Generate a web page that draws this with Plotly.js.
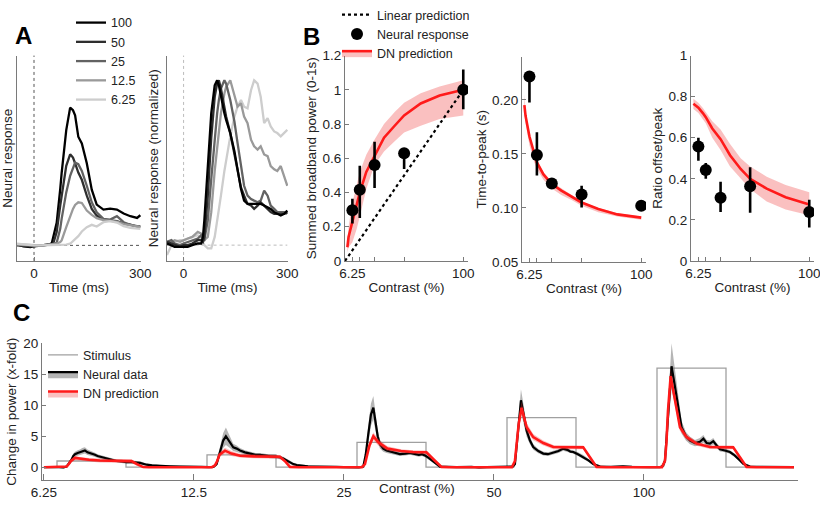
<!DOCTYPE html>
<html>
<head>
<meta charset="utf-8">
<script src="https://cdn.plot.ly/plotly-3.0.1.min.js"></script>
<style>
body{margin:0;background:#fff}
#fig{width:820px;height:505px}
</style>
</head>
<body>
<div id="fig"></div>
<script>
// ---- panel A: broadband time courses per contrast (ms) ----
var contrastNames = ['100', '50', '25', '12.5', '6.25'];

var tRaw = [-48,-30,-10,0,20, 40,50,55,64,74, 78,91,102,110,116, 125,135,149,163,177, 196,215,234,253,272, 291,300];
var raw100 = [0.03,-0.03,-0.05,-0.02,0.0, 0.02,0.06,0.3,0.68,1.7, 2.18,3.48,4.16,4.08,3.93, 3.28,3.08,2.48,1.68,1.23, 1.08,1.11,1.08,0.96,0.88, 0.83,0.91];
var raw50 = [0.0,-0.02,-0.03,-0.03,0.0, 0.02,0.03,0.08,0.4,1.2, 1.5,2.4,2.75,2.65,2.48, 2.2,1.98,1.5,1.1,0.9, 0.78,0.75,0.73,0.66,0.63, 0.57,0.56];
var raw25 = [0.02,0.0,-0.02,-0.02,0.0, 0.02,0.03,0.04,0.08,0.5, 0.8,1.6,2.1,2.35,2.5, 2.45,2.25,1.8,1.3,1.0, 0.8,0.78,0.88,0.7,0.62, 0.58,0.58];
var raw12 = [0.03,0.02,0.0,-0.01,0.0, 0.02,0.03,0.04,0.05,0.1, 0.15,0.55,0.9,1.1,1.22, 1.3,1.28,1.05,0.92,0.82, 0.76,0.74,0.72,0.64,0.6, 0.56,0.56];
var raw6 = [0.05,0.03,0.0,0.0,0.0, 0.01,0.01,0.01,0.01,0.02, 0.02,0.02,0.05,0.12,0.18, 0.28,0.42,0.55,0.62,0.57, 0.7,0.73,0.69,0.58,0.53, 0.5,0.5];

var tNorm = [-48,-35,-26,-10,0, 12,25,41,51,56, 60,70,80,90,97, 102,108,118,123,135, 147,156,166,175,185, 195,204,214,223,233, 243,252,262,271,281, 291,300];
var norm100 = [0.01,0.0,-0.01,-0.01,-0.01, -0.01,0.0,0.01,0.01,0.05, 0.15,0.5,0.8,0.97,1.0, 0.97,0.9,0.8,0.76,0.68, 0.57,0.47,0.34,0.27,0.25, 0.25,0.25,0.25,0.25,0.24, 0.23,0.22,0.2,0.19,0.18, 0.19,0.21];
var norm50 = [0.02,0.01,0.0,-0.01,0.0, 0.0,0.01,0.03,0.03,0.02, 0.05,0.3,0.65,0.9,0.98, 1.0,0.95,0.84,0.78,0.68, 0.55,0.45,0.35,0.3,0.25, 0.24,0.22,0.24,0.26,0.24, 0.22,0.2,0.19,0.19,0.19, 0.19,0.2];
var norm25 = [0.02,0.03,0.01,0.0,0.01, 0.02,0.03,0.04,0.06,0.03, 0.03,0.15,0.4,0.65,0.8, 0.88,0.95,1.0,0.98,0.88, 0.75,0.62,0.48,0.36,0.3, 0.28,0.27,0.26,0.27,0.33, 0.3,0.24,0.22,0.2,0.2, 0.2,0.19];
var norm12 = [0.0,0.02,0.03,0.02,0.03, 0.04,0.05,0.08,0.07,0.05, 0.03,0.05,0.2,0.45,0.6, 0.7,0.8,0.92,0.96,1.0, 0.9,0.84,0.86,0.78,0.74, 0.64,0.6,0.58,0.6,0.55, 0.54,0.48,0.46,0.45,0.48, 0.42,0.36];
var norm6 = [-0.06,0.0,0.02,0.03,0.03, 0.04,0.05,0.06,0.04,0.02, 0.0,-0.02,-0.02,0.05,0.14, 0.2,0.3,0.45,0.52,0.66, 0.78,0.84,0.88,0.84,0.83, 0.94,1.0,0.98,0.9,0.74, 0.77,0.72,0.69,0.68,0.66, 0.68,0.7];

// ---- panel B: summary metrics vs contrast ----
var contrasts = [6.25, 12.5, 25, 50, 100];
var contrastTickText = ['6.25', '', '', '', '100'];
var linContrast = [0, 100];
var linPower = [0, 1];

var powerMean = [0.296, 0.416, 0.561, 0.63, 1.0];
var powerErrUp = [0.068, 0.141, 0.135, 0.02, 0.118];
var powerErrDown = [0.077, 0.165, 0.135, 0.092, 0.114];

var peakMean = [0.2216, 0.149, 0.1225, 0.1124, 0.102];
var peakErrUp = [0.003, 0.021, 0.002, 0.008, 0.002];
var peakErrDown = [0.024, 0.019, 0.002, 0.012, 0.002];

var ratioMean = [0.557, 0.443, 0.308, 0.364, 0.238];
var ratioErrUp = [0.043, 0.034, 0.078, 0.092, 0.06];
var ratioErrDown = [0.069, 0.043, 0.07, 0.129, 0.075];

// DN model curves
var cModel = [2, 3, 6.25, 10, 12.5, 18, 25, 33, 42, 50, 64, 80, 100];
var dnPower = [0.08, 0.14, 0.23, 0.34, 0.40, 0.52, 0.615, 0.72, 0.79, 0.85, 0.92, 0.967, 1.0];
var dnPowerLo = [0.05, 0.08, 0.11, 0.19, 0.26, 0.42, 0.56, 0.64, 0.70, 0.75, 0.79, 0.83, 0.85];
var dnPowerHi = [0.1, 0.2, 0.34, 0.46, 0.52, 0.62, 0.71, 0.80, 0.87, 0.925, 0.98, 1.02, 1.056];
var dnPeak = [0.195, 0.185, 0.166, 0.150, 0.142, 0.131, 0.122, 0.116, 0.110, 0.105, 0.099, 0.094, 0.091];
var dnPeakLo = [0.19, 0.178, 0.158, 0.143, 0.136, 0.126, 0.118, 0.112, 0.107, 0.102, 0.096, 0.092, 0.089];
var dnPeakHi = [0.205, 0.19, 0.169, 0.152, 0.144, 0.133, 0.124, 0.118, 0.112, 0.106, 0.1, 0.095, 0.092];
var dnRatio = [0.765, 0.76, 0.746, 0.72, 0.70, 0.645, 0.593, 0.515, 0.448, 0.40, 0.352, 0.31, 0.275];
var dnRatioLo = [0.74, 0.735, 0.72, 0.69, 0.67, 0.60, 0.54, 0.46, 0.40, 0.35, 0.29, 0.25, 0.222];
var dnRatioHi = [0.79, 0.785, 0.77, 0.745, 0.725, 0.68, 0.64, 0.57, 0.50, 0.46, 0.41, 0.37, 0.335];

// ---- panel C: time series, one stimulus block per tick (block units) ----
var blockTicks = [0, 1, 2, 3, 4];
var blockNames = ['6.25', '12.5', '25', '50', '100'];

var tStim = [0,0.087,0.087,0.547,0.547, 1.087,1.087,1.547,1.547, 2.087,2.087,2.547,2.547, 3.087,3.087,3.547,3.547, 4.087,4.087,4.547,4.547, 5.0];
var stim = [0,0,1,1,0, 0,2,2,0, 0,4,4,0, 0,8,8,0, 0,16,16,0, 0];

var tNeural = [
  0,0.03,0.06,0.10,0.13, 0.151,0.17,0.184,0.195,0.207, 0.225,0.24,0.255,0.273,0.29, 0.307,0.325,0.34,0.357,0.373, 0.395,0.418,0.45,0.484,0.52, 0.551,0.575,0.596,0.62,0.64, 0.66,0.684,0.72,0.773,0.84, 0.907,0.95,
  1.0,1.05,1.10,1.13,1.151, 1.165,1.18,1.195,1.213,1.225, 1.24,1.262,1.285,1.307,1.34, 1.373,1.41,1.44,1.475,1.507, 1.54,1.573,1.595,1.618,1.64, 1.662,1.685,1.707,1.76,1.818, 1.9,1.95,
  2.0,2.06,2.1,2.129,2.145, 2.162,2.18,2.196,2.21,2.225, 2.24,2.262,2.284,2.33,2.373, 2.41,2.44,2.462,2.5,2.52, 2.54,2.565,2.59,2.615,2.64, 2.7,2.75,2.85,2.9,2.95,
  3.0,3.05,3.107,3.125,3.14, 3.162,3.18,3.198,3.218,3.24, 3.262,3.296,3.329,3.36,3.396, 3.43,3.462,3.49,3.51,3.529, 3.56,3.596,3.63,3.662,3.707, 3.78,3.86,3.92,3.97,
  4.04,4.107,4.125,4.14,4.162, 4.184,4.2,4.218,4.235,4.251, 4.28,4.307,4.34,4.373,4.396, 4.418,4.44,4.462,4.485,4.507, 4.54,4.573,4.6,4.618,4.64, 4.662,4.685,4.707,4.78,4.884, 4.95,5.0
];
var neural = [
  0,-0.05,0.02,0,-0.05, 0.1,0.7,1.2,1.8,2.1, 2.3,2.4,2.6,2.7,2.4, 2.3,2.1,2.0,1.8,1.7, 1.5,1.3,1.15,1.0,0.95, 0.8,0.85,0.85,0.75,0.7, 0.55,0.4,0.3,0.2,0.15, 0.1,0.05,
  0,0.05,0,0.05,0.5, 1.8,3.0,4.3,5.0,4.6, 4.0,3.2,3.0,2.7,2.4, 2.2,2.0,2.0,1.85,1.76, 1.7,1.6,1.4,1.07,0.8, 0.5,0.35,0.27,0.15,0.1, 0,0.05,
  0,0,-0.05,0.1,2.0, 5.3,8.5,9.6,7.5,5.0, 3.7,3.0,2.7,2.4,2.1, 2.2,2.3,2.2,2.0,2.1, 1.9,1.5,1.0,0.5,0.1, 0.05,0,0.05,-0.05,0,
  0,0.05,0,0.1,0.5, 6.0,10.8,8.5,5.9,4.3, 3.25,2.6,2.2,2.1,2.3, 2.6,3.0,2.8,2.5,2.45, 2.1,1.65,1.1,0.5,0.1, 0.05,0.12,0.05,0,
  0,0,0.2,1.0,9.0, 16.3,14.0,11.25,8.5,6.45, 5.0,4.3,3.9,4.1,4.6, 3.9,3.8,4.2,3.5,2.9, 2.7,2.45,2.0,1.65,1.1, 0.55,0.25,0.1,0.05,0.05, 0,0
];
var neuralSem = [
  0.15,0.15,0.15,0.15,0.15, 0.2,0.3,0.35,0.4,0.4, 0.45,0.45,0.5,0.5,0.45, 0.4,0.35,0.35,0.3,0.3, 0.3,0.3,0.25,0.25,0.25, 0.25,0.25,0.25,0.25,0.25, 0.2,0.2,0.2,0.15,0.15, 0.15,0.15,
  0.15,0.15,0.15,0.15,0.3, 0.6,0.9,1.2,1.4,1.2, 0.9,0.6,0.5,0.4,0.35, 0.3,0.3,0.3,0.3,0.3, 0.3,0.3,0.3,0.3,0.25, 0.25,0.2,0.2,0.15,0.15, 0.15,0.15,
  0.15,0.15,0.15,0.2,0.8, 1.4,1.8,1.9,1.6,1.0, 0.7,0.5,0.4,0.35,0.3, 0.3,0.3,0.3,0.3,0.3, 0.3,0.3,0.25,0.2,0.2, 0.15,0.15,0.15,0.15,0.15,
  0.15,0.15,0.15,0.2,0.5, 1.4,1.8,1.5,1.0,0.6, 0.45,0.35,0.3,0.3,0.3, 0.3,0.35,0.35,0.3,0.3, 0.3,0.3,0.25,0.2,0.2, 0.15,0.15,0.15,0.15,
  0.15,0.15,0.3,0.8,2.5, 3.7,3.0,2.2,1.5,1.0, 0.7,0.6,0.5,0.6,0.6, 0.5,0.5,0.5,0.4,0.35, 0.3,0.3,0.3,0.3,0.25, 0.2,0.2,0.15,0.15,0.15, 0.15,0.15
];

var tDN = [
  0,0.14,0.151,0.165,0.18, 0.207,0.24,0.30,0.373,0.45, 0.55,0.584,0.62,0.662,0.7,
  1.12,1.14,1.155,1.17,1.207, 1.25,1.307,1.40,1.50,1.573, 1.61,1.64,1.7,
  2.12,2.14,2.155,2.17,2.196, 2.23,2.29,2.38,2.46,2.55, 2.60,2.65,2.7,
  3.12,3.14,3.152,3.165,3.184, 3.2,3.218,3.262,3.329,3.396, 3.50,3.595,3.64,3.684,3.75,
  4.12,4.14,4.15,4.16,4.178, 4.192,4.207,4.24,4.284,4.351, 4.44,4.595,4.64,4.684,4.75, 5.0
];
var dnSeries = [
  0,0,0.1,0.5,1.0, 1.5,1.35,1.2,1.07,1.02, 1.0,0.98,0.5,0.02,0,
  0,0.3,1.0,2.0,2.67, 2.2,1.85,1.75,1.7,1.68, 0.9,0.05,0,
  0,0.5,2.0,3.5,5.0, 4.0,3.0,2.6,2.45,2.4, 1.2,0.05,0,
  0,1.0,3.5,7.0,9.6, 8.0,6.45,4.85,3.9,3.25, 3.2,3.2,1.6,0.05,0,
  0,1.0,4.0,9.0,14.7, 12.8,10.7,6.45,4.85,3.8, 3.25,3.2,1.6,0.05,0, 0
];
var dnSpread = [
  0.1,0.1,0.15,0.25,0.3, 0.35,0.3,0.3,0.3,0.3, 0.3,0.3,0.25,0.15,0.1,
  0.1,0.15,0.3,0.4,0.45, 0.4,0.3,0.3,0.3,0.3, 0.25,0.15,0.1,
  0.1,0.2,0.4,0.55,0.65, 0.55,0.4,0.3,0.3,0.3, 0.25,0.15,0.1,
  0.1,0.3,0.6,0.9,1.0, 0.9,0.7,0.5,0.4,0.35, 0.3,0.3,0.25,0.15,0.1,
  0.1,0.3,0.6,1.0,1.2, 1.1,0.9,0.6,0.45,0.35, 0.3,0.3,0.25,0.15,0.1, 0.1
];

// ---------------- style ----------------
var FONT = 'Liberation Sans, Arial, Helvetica, sans-serif';
var grays = ['#000000', '#2e2e2e', '#626262', '#9a9a9a', '#cdcdcd'];
var RED = '#ff1a1a';
var PINK = 'rgba(240,60,60,0.32)';
var AXC = '#7a7a7a';

function addBand(data, x, lo, mid, hi, xa, ya, lineColor, fillColor, width, name, legend, rank) {
  data.push({x: x, y: lo, xaxis: xa, yaxis: ya, mode: 'lines', line: {width: 0, color: fillColor}, showlegend: false, hoverinfo: 'skip'});
  data.push({x: x, y: mid, xaxis: xa, yaxis: ya, mode: 'lines', line: {width: width, color: lineColor},
    fill: 'tonexty', fillcolor: fillColor, name: name, showlegend: !!legend, legend: legend, legendrank: rank});
  data.push({x: x, y: hi, xaxis: xa, yaxis: ya, mode: 'lines', line: {width: 0, color: fillColor},
    fill: 'tonexty', fillcolor: fillColor, showlegend: false, hoverinfo: 'skip'});
}

function pointsTrace(y, up, down, xa, ya, name, legend) {
  return {x: contrasts, y: y, xaxis: xa, yaxis: ya, mode: 'markers', name: name,
    marker: {size: 12, color: '#000'},
    error_y: {type: 'data', symmetric: false, array: up, arrayminus: down, thickness: 2.6, width: 0, color: '#000'},
    showlegend: !!legend, legend: legend, legendrank: 2};
}

var data = [];

// A
var rawSeries = [raw100, raw50, raw25, raw12, raw6];
var normSeries = [norm100, norm50, norm25, norm12, norm6];
for (var i = 0; i < 5; i++) {
  data.push({x: tRaw, y: rawSeries[i], xaxis: 'x', yaxis: 'y', mode: 'lines', name: contrastNames[i],
    line: {color: grays[i], width: 2.3}, legend: 'legend', legendrank: i + 1});
}
for (var i = 4; i >= 0; i--) {
  data.push({x: tNorm, y: normSeries[i], xaxis: 'x2', yaxis: 'y2', mode: 'lines',
    line: {color: grays[i], width: 2.3}, showlegend: false});
}

// B
addBand(data, cModel, dnPowerLo, dnPower, dnPowerHi, 'x3', 'y3', RED, PINK, 2.6, 'DN prediction', 'legend2', 3);
data.push({x: linContrast, y: linPower, xaxis: 'x3', yaxis: 'y3', mode: 'lines', name: 'Linear prediction',
  line: {color: '#000', width: 2.2, dash: 'dot'}, legend: 'legend2', legendrank: 1});
data.push(pointsTrace(powerMean, powerErrUp, powerErrDown, 'x3', 'y3', 'Neural response', 'legend2'));

addBand(data, cModel, dnPeakLo, dnPeak, dnPeakHi, 'x4', 'y4', RED, PINK, 2.6, 'DN prediction', null, 3);
data.push(pointsTrace(peakMean, peakErrUp, peakErrDown, 'x4', 'y4', 'Neural response', null));

addBand(data, cModel, dnRatioLo, dnRatio, dnRatioHi, 'x5', 'y5', RED, PINK, 2.6, 'DN prediction', null, 3);
data.push(pointsTrace(ratioMean, ratioErrUp, ratioErrDown, 'x5', 'y5', 'Neural response', null));

// C
data.push({x: tStim, y: stim, xaxis: 'x6', yaxis: 'y6', mode: 'lines', name: 'Stimulus',
  line: {color: '#a0a0a0', width: 1.3}, legend: 'legend3', legendrank: 1});
var nLo = neural.map(function (v, k) { return v - neuralSem[k]; });
var nHi = neural.map(function (v, k) { return v + neuralSem[k]; });
addBand(data, tNeural, nLo, neural, nHi, 'x6', 'y6', '#000', 'rgba(90,90,90,0.45)', 2.2, 'Neural data', 'legend3', 2);
var dLo = dnSeries.map(function (v, k) { return v - dnSpread[k]; });
var dHi = dnSeries.map(function (v, k) { return v + dnSpread[k]; });
addBand(data, tDN, dLo, dnSeries, dHi, 'x6', 'y6', RED, PINK, 2.6, 'DN prediction', 'legend3', 3);

function axis(o) {
  var a = {showline: true, linecolor: AXC, linewidth: 1, ticks: 'inside', ticklen: 4, tickcolor: AXC,
    showgrid: false, zeroline: false, fixedrange: true, ticklabeloverflow: 'allow',
    tickfont: {size: 13.5, color: '#222'}};
  for (var k in o) a[k] = o[k];
  return a;
}
function ttl(t, s) { return {text: t, standoff: s, font: {size: 13.5, color: '#222'}}; }

var yTop = 1 - 52 / 505, yBot = 1 - 259 / 505;
var legendFont = {size: 12.5, color: '#222', family: FONT};
function legendAt(px, py) {
  return {x: px / 820, y: 1 - py / 505, xanchor: 'left', yanchor: 'top', traceorder: 'normal',
    bgcolor: 'rgba(0,0,0,0)', font: legendFont, itemwidth: 30};
}

var layout = {
  width: 820, height: 505,
  margin: {l: 0, r: 0, t: 0, b: 0},
  paper_bgcolor: '#fff', plot_bgcolor: 'rgba(0,0,0,0)',
  font: {family: FONT, color: '#222'},
  xaxis: axis({domain: [17 / 820, 141 / 820], range: [-48, 302], anchor: 'y', tickvals: [0, 300], title: ttl('Time (ms)', 2)}),
  yaxis: axis({domain: [yBot, yTop], range: [-0.47, 5.73], anchor: 'x', showticklabels: false, ticks: '', title: ttl('Neural response', 3)}),
  xaxis2: axis({domain: [167 / 820, 288 / 820], range: [-48, 302], anchor: 'y2', tickvals: [0, 300], title: ttl('Time (ms)', 2)}),
  yaxis2: axis({domain: [yBot, yTop], range: [-0.096, 1.15], anchor: 'x2', showticklabels: false, ticks: '', title: ttl('Neural response (normalized)', 4)}),
  xaxis3: axis({domain: [345 / 820, 468 / 820], range: [0, 104], anchor: 'y3', tickvals: contrasts, ticktext: contrastTickText, title: ttl('Contrast (%)', 2)}),
  yaxis3: axis({domain: [yBot, yTop], range: [0, 1.2], anchor: 'x3', tickvals: [0, 0.2, 0.4, 0.6, 0.8, 1, 1.2], title: ttl('Summed broadband power (0-1s)', 2)}),
  xaxis4: axis({domain: [522 / 820, 646 / 820], range: [0, 104], anchor: 'y4', tickvals: contrasts, ticktext: contrastTickText, title: ttl('Contrast (%)', 2)}),
  yaxis4: axis({domain: [1 - 260 / 505, 1 - 53 / 505], range: [0.05, 0.24], anchor: 'x4', tickvals: [0.05, 0.1, 0.15, 0.2], tickformat: '.2f', title: ttl('Time-to-peak (s)', 2)}),
  xaxis5: axis({domain: [691 / 820, 814 / 820], range: [0, 104], anchor: 'y5', tickvals: contrasts, ticktext: contrastTickText, title: ttl('Contrast (%)', 2)}),
  yaxis5: axis({domain: [yBot, yTop], range: [0, 1], anchor: 'x5', tickvals: [0, 0.2, 0.4, 0.6, 0.8, 1], title: ttl('Ratio offset/peak', 2)}),
  xaxis6: axis({domain: [42 / 820, 798 / 820], range: [-0.013, 5.027], anchor: 'y6', tickvals: blockTicks, ticktext: blockNames, ticklen: 6}),
  yaxis6: axis({domain: [1 - 480 / 505, 1 - 342 / 505], range: [-2.1, 20], anchor: 'x6', tickvals: [0, 5, 10, 15, 20], title: ttl('Change in power (x-fold)', 3)}),
  shapes: [
    {type: 'line', xref: 'x', yref: 'y domain', x0: 0, x1: 0, y0: 0, y1: 1, layer: 'below', line: {color: '#555', width: 1, dash: 'dot'}},
    {type: 'line', xref: 'x', yref: 'y', x0: 0, x1: 300, y0: 0, y1: 0, layer: 'below', line: {color: '#555', width: 1, dash: 'dot'}},
    {type: 'line', xref: 'x2', yref: 'y2 domain', x0: 0, x1: 0, y0: 0, y1: 1, layer: 'below', line: {color: '#bbb', width: 1, dash: 'dot'}},
    {type: 'line', xref: 'x2', yref: 'y2', x0: 0, x1: 300, y0: 0, y1: 0, layer: 'below', line: {color: '#bbb', width: 1, dash: 'dot'}}
  ],
  legend: legendAt(71, 4),
  legend2: legendAt(337, -4),
  legend3: legendAt(43, 339),
  annotations: [
    {text: 'A', xref: 'paper', yref: 'paper', x: 13 / 820, y: 1 - 16 / 505, showarrow: false, font: {size: 24, weight: 'bold', color: '#000'}},
    {text: 'B', xref: 'paper', yref: 'paper', x: 311 / 820, y: 1 - 17 / 505, showarrow: false, font: {size: 24, weight: 'bold', color: '#000'}},
    {text: 'C', xref: 'paper', yref: 'paper', x: 11 / 820, y: 1 - 311 / 505, showarrow: false, font: {size: 24, weight: 'bold', color: '#000'}},
    {text: 'Contrast (%)', xref: 'paper', yref: 'paper', x: 417 / 820, y: 1 - 498 / 505, showarrow: false, font: {size: 13.5, color: '#222'}}
  ]
};

Plotly.newPlot('fig', data, layout, {staticPlot: true, displayModeBar: false});
</script>
</body>
</html>
